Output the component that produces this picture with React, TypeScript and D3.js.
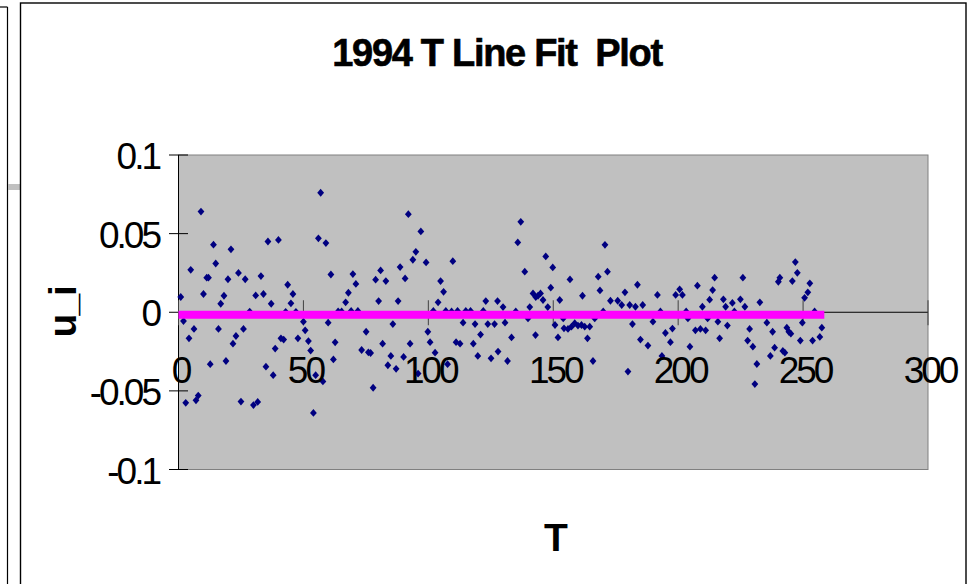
import React from "react";
import * as d3 from "d3";

const tValues: number[] = [
  0.9, 2, 2.9, 4.2, 4.9, 6.2, 7, 7.9, 9, 10, 11.3, 12, 12.7, 14, 14.9, 16, 16.9, 18.2, 19, 19.8,
  21, 21.8, 23, 24, 25, 26, 26.7, 28.5, 30, 30.9, 31.7, 33, 34, 35, 35.8, 37.1, 37.9, 38.7, 40, 41,
  42.1, 42.9, 43.7, 45, 45.8, 47, 47.8, 50, 50.7, 52, 52.9, 54, 54.9, 56, 56.9, 57.8, 59, 59.9, 61, 62,
  62.7, 63.9, 65.3, 66.9, 68, 69.1, 69.8, 71, 71.8, 73.3, 75.1, 76, 76.9, 77.9, 78.9, 80.1, 80.9, 81.7, 83, 83.8,
  85, 85.8, 87.1, 87.9, 88.7, 90.1, 90.7, 92, 92.7, 93.8, 95, 95.9, 97, 99.1, 99.8, 100.7, 102, 102.7, 103.9, 104.9,
  106.1, 107, 107.7, 109.3, 109.8, 111.1, 111.7, 112.7, 113.9, 115, 116.9, 118, 118.7, 119.8, 120.9, 122, 123, 123.8, 125.1, 126.5,
  127.7, 127.9, 129.9, 130.7, 131.7, 133.3, 135, 135.8, 137, 138.6, 139.9, 140.6, 141.9, 142.9, 143, 143.9, 144.9, 145.9, 147, 147.8,
  149, 149.8, 150.7, 151.9, 152.6, 154, 154.3, 155.9, 156.7, 157.3, 158.6, 159.9, 161.3, 161.7, 162.6, 163.7, 164.6, 165.9, 166.6, 168,
  168.7, 170, 170.7, 171.7, 172.9, 175.8, 177.4, 178.7, 179.9, 180.6, 181.7, 182.9, 183.7, 184.9, 185.8, 187.9, 189.9, 191.7, 192.9, 193.5,
  194.9, 196.9, 197.7, 199, 200.6, 201.7, 203.2, 203.9, 204.7, 206.9, 207.7, 208.9, 209.7, 211, 211.8, 212.6, 213.8, 214.6, 215.9, 216.6,
  218.1, 219, 219.7, 221.7, 222.5, 224.9, 225.9, 226.7, 227.8, 228.6, 229.9, 230.7, 231.5, 232.7, 235.5, 236.9, 237.8, 238.6, 240.1, 240.7,
  241.9, 242.7, 243.5, 244.3, 245.1, 245.7, 246.9, 247.7, 248.9, 249.7, 250.6, 251.9, 252.7, 253.8, 254.6, 256.7, 257.5,
];

const uValues: number[] = [
  0.0097, -0.0056, -0.0576, -0.0166, 0.027, -0.0106, -0.056, -0.053, 0.064, 0.0116, 0.022, 0.022, -0.033, 0.043, 0.031, -0.0106, 0.0054, 0.0105, -0.031, 0.021,
  0.04, -0.02, -0.0151, 0.025, -0.0568, -0.0106, 0.021, 0.0004, -0.059, 0.0107, -0.057, 0.023, 0.0116, -0.0346, 0.045, 0.0054, -0.04, -0.0231, 0.046, -0.0166,
  -0.0174, 0.0003, 0.0175, 0.0057, 0.0116, 0.0003, -0.0166, -0.006, -0.0115, -0.0183, -0.0244, -0.064, -0.04, 0.047, 0.076, -0.044, 0.044, -0.0066, 0.024, -0.03,
  -0.0191, 0.0005, 0.0005, 0.0063, 0.0124, 0.0008, 0.0243, 0.018, 0.0008, -0.024, -0.0124, -0.0255, -0.0259, -0.048, 0.0207, 0.0071, 0.0266, -0.02, 0.0198, -0.0337,
  -0.0278, -0.0075, -0.036, 0.0071, 0.0287, -0.0284, 0.0215, 0.0624, -0.02, 0.0334, 0.0384, -0.039, 0.0514, 0.0317, -0.0124, -0.019, 0.0008, -0.0257, 0.0063, 0.0198,
  0.013, 0.0008, -0.033, 0.0005, 0.0325, -0.019, 0.0008, -0.02, -0.0066, 0.0008, 0.0008, -0.02, -0.0075, -0.0278, -0.0142, 0.0008, 0.0071, -0.0075, -0.0293, -0.0075,
  0.0071, -0.025, 0.0033, -0.0066, -0.031, -0.016, 0.0005, 0.0444, 0.0575, 0.0258, -0.0039, 0.0033, 0.012, -0.0145, 0.0097, 0.0105, 0.012, 0.0078, 0.0355, 0.0033,
  0.0156, 0.0285, -0.0081, -0.016, 0.0078, -0.0039, -0.0102, -0.0106, 0.0209, -0.0092, -0.007, -0.0085, -0.0081, 0.0105, -0.0092, -0.0166, -0.0092, -0.031, -0.0039, 0.0226,
  0.0139, 0.0005, 0.0429, 0.0258, 0.0073, 0.0073, 0.0046, 0.0127, -0.0377, 0.0046, -0.0075, 0.0035, 0.0175, -0.0174, 0.0046, -0.0212, -0.006, 0.011, 0.0005, -0.0278,
  -0.0132, -0.019, -0.0104, 0.011, 0.0146, 0.011, 0.0005, -0.0039, -0.0219, -0.0115, 0.0169, -0.0106, 0.0035, -0.0115, -0.0039, 0.008, 0.0141, 0.022, -0.006, -0.0166,
  0.0082, 0.0035, -0.0085, 0.0059, 0.0005, 0.0082, 0.022, 0.0035, -0.018, -0.0106, -0.0219, -0.0457, -0.0329, 0.0063, -0.0066, -0.0278, -0.0124, -0.0225, 0.0194, 0.022,
  -0.0246, -0.0257, -0.0098, -0.0124, -0.0136, 0.0198, 0.0319, 0.0251, -0.018, -0.0066, 0.0092, 0.0127, 0.0184, -0.018, 0.0005, -0.0157, -0.0098,
];

const fitT: number[] = [0, 258.5];
const fitU: number[] = [-0.0016, -0.0016];

const xTicks: number[] = [0, 50, 100, 150, 200, 250, 300];
const yTicks: number[] = [-0.1, -0.05, 0, 0.05, 0.1];
const yTickLabels: string[] = ["-0.1", "-0.05", "0", "0.05", "0.1"];

const title = "1994 T Line Fit  Plot";
const xLabel = "T";
const yLabel = "u_i";

export default function App() {
  const W = 976;
  const H = 584;
  const x = d3.scaleLinear().domain([0, 300]).range([178.5, 928]);
  const y = d3.scaleLinear().domain([-0.1, 0.1]).range([469.5, 155]);
  const y0 = y(0);
  const font = "'Liberation Sans', Arial, sans-serif";
  const diamond = "M0,-3.9L3.4,0L0,3.9L-3.4,0Z";
  const line = d3
    .line<number>()
    .x((d) => x(d))
    .y((_, i) => y(fitU[i]));

  return (
    <svg
      width={W}
      height={H}
      style={{ position: "absolute", left: 0, top: 0, background: "#fff" }}
      fontFamily={font}
    >
      {/* neighbouring chart remnants */}
      <line x1={0} y1={7} x2={7.5} y2={7} stroke="#000" strokeWidth={1.2} />
      <line x1={7.5} y1={7} x2={7.5} y2={H} stroke="#000" strokeWidth={1.2} />
      <rect x={8} y={184} width={12} height={6} fill="#c0c0c0" />
      {/* chart frame */}
      <rect x={20.5} y={3} width={945.5} height={H + 10} fill="#fff" stroke="#000" strokeWidth={1.4} />

      {/* plot area */}
      <rect x={x(0)} y={y(0.1)} width={x(300) - x(0)} height={y(-0.1) - y(0.1)} fill="#c0c0c0" stroke="#808080" strokeWidth={1} />

      {/* y axis */}
      <line x1={x(0)} y1={y(0.1)} x2={x(0)} y2={y(-0.1)} stroke="#000" strokeWidth={1} />
      {yTicks.map((t) => (
        <line key={"yt" + t} x1={169} x2={188} y1={y(t)} y2={y(t)} stroke="#000" strokeWidth={1} />
      ))}

      {/* x axis */}
      <line x1={x(0)} y1={y0} x2={x(300)} y2={y0} stroke="#000" strokeWidth={1} />
      {xTicks.map((t) => (
        <line key={"xt" + t} x1={x(t)} x2={x(t)} y1={y0 - 12} y2={y0 + 13} stroke="#404040" strokeWidth={1} />
      ))}

      {/* points */}
      {tValues.map((t, i) => (
        <path key={"p" + i} d={diamond} transform={`translate(${x(t)},${y(uValues[i])})`} fill="#000080" />
      ))}

      {/* fitted line */}
      <path d={line(fitT) || ""} fill="none" stroke="#ff00ff" strokeWidth={8} />

      {/* tick labels */}
      {xTicks.map((t) => (
        <text key={"xl" + t} x={x(t) + 2} y={383} textAnchor="middle" fontSize={37} letterSpacing={-3} fill="#000">
          {t}
        </text>
      ))}
      {yTicks.map((t, i) => (
        <text key={"yl" + t} x={159} y={y(t) + 14} textAnchor="end" fontSize={37} letterSpacing={-3} fill="#000">
          {yTickLabels[i]}
        </text>
      ))}

      {/* title */}
      <text x={497} y={66} textAnchor="middle" fontSize={38} fontWeight="bold" letterSpacing={-1.3} stroke="#000" strokeWidth={0.6} style={{ whiteSpace: "pre" }}>
        {title}
      </text>

      {/* axis labels */}
      <text x={556} y={551} textAnchor="middle" fontSize={39} fontWeight="bold">
        {xLabel}
      </text>
      <text
        transform={`translate(76,${(y(0.1) + y(-0.1)) / 2}) rotate(-90)`}
        textAnchor="middle"
        fontSize={39}
        fontWeight="bold"
        letterSpacing={-2}
      >
        {yLabel}
      </text>
    </svg>
  );
}
